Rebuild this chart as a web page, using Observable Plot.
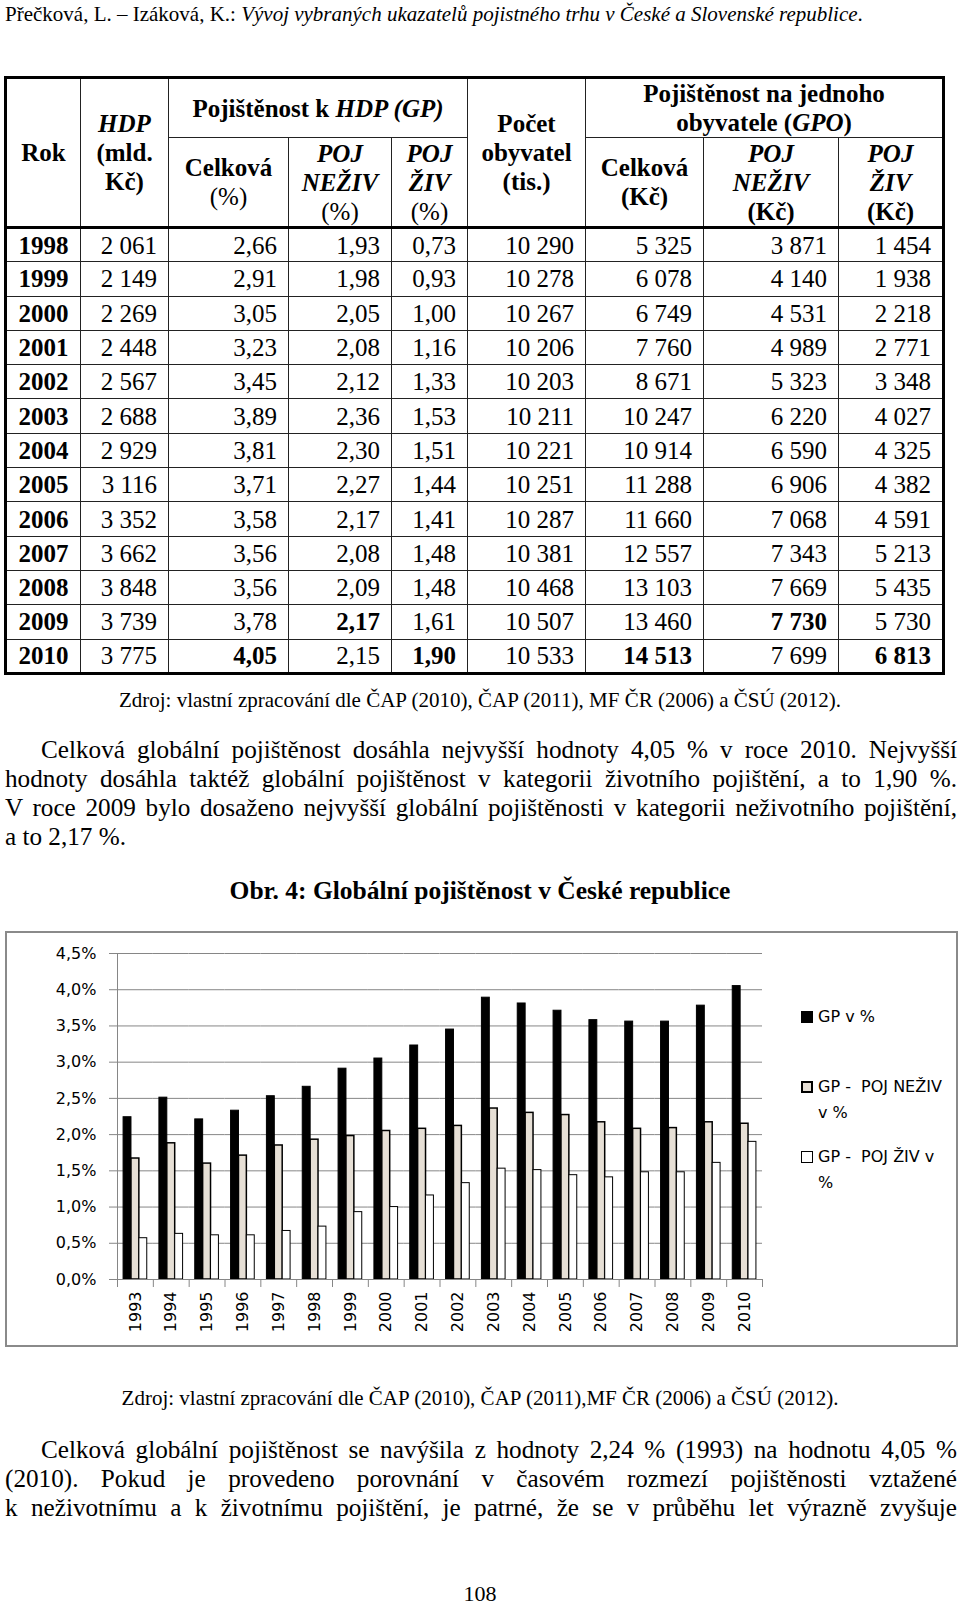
<!DOCTYPE html>
<html><head><meta charset="utf-8">
<script src="https://cdn.jsdelivr.net/npm/d3@7"></script>
<script src="https://cdn.jsdelivr.net/npm/@observablehq/plot@0.6"></script>
<style>
html,body{margin:0;padding:0}
body{width:960px;height:1605px;position:relative;background:#fff;font-family:"Liberation Serif","Times New Roman",serif;color:#000;overflow:hidden}
.abs{position:absolute}
#hdr{left:5px;top:2px;font-size:21px;line-height:24px;white-space:nowrap}
table{position:absolute;left:4px;top:76px;border-collapse:collapse;table-layout:fixed;width:938px;font-size:25px;border:3px solid #000}
th,td{border:1px solid #222;padding:0 11px;line-height:29px}
th{font-weight:bold;text-align:center;vertical-align:middle;padding:0 2px}
th .n{font-weight:normal}
thead tr.r1{height:60px}
thead tr.r2{height:90px}
thead tr.r2 th, thead th.rs{border-bottom:3px solid #000}
tbody tr{height:34.3px}
tbody td{text-align:right;padding:0 11px}
tbody td.yr{text-align:center;font-weight:bold;padding:0}
td.b{font-weight:bold}
.src{left:0;width:960px;text-align:center;font-size:21px;line-height:24px;white-space:nowrap}
.para{left:5px;width:952px;font-size:25.2px;line-height:29px}
.para div{text-align:justify;text-align-last:justify;height:29px}
.para div.last{text-align:left;text-align-last:left}
.para div.ind{text-indent:36px}
#title{left:0;width:960px;top:876px;text-align:center;font-size:25.5px;line-height:30px;font-weight:bold;white-space:nowrap}
#box{left:5px;top:931px;width:949px;height:412px;border:2px solid #8a8a8a}
#chart{left:7px;top:933px}
.leg{font-family:"DejaVu Sans",sans-serif;font-size:16px;line-height:25.5px;white-space:pre}
.sw{position:absolute;width:12px;height:12px;box-sizing:border-box}
#pg{left:0;width:960px;top:1582px;text-align:center;font-size:22px;line-height:24px}
</style></head>
<body>
<div id="hdr" class="abs">Přečková, L. – Izáková, K.: <i>Vývoj vybraných ukazatelů pojistného trhu v České a Slovenské republice</i>.</div>
<table id="tbl">
<colgroup><col style="width:75px"><col style="width:88px"><col style="width:120px"><col style="width:103px"><col style="width:76px"><col style="width:118px"><col style="width:118px"><col style="width:135px"><col style="width:105px"></colgroup>
<thead>
<tr class="r1">
<th rowspan="2" class="rs">Rok</th>
<th rowspan="2" class="rs"><i>HDP</i><br>(mld.<br>Kč)</th>
<th colspan="3">Pojištěnost k <i>HDP (GP)</i></th>
<th rowspan="2" class="rs">Počet<br>obyvatel<br>(tis.)</th>
<th colspan="3">Pojištěnost na jednoho<br>obyvatele (<i>GPO</i>)</th>
</tr>
<tr class="r2">
<th>Celková<br><span class="n">(%)</span></th>
<th><i>POJ<br>NEŽIV</i><br><span class="n">(%)</span></th>
<th><i>POJ<br>ŽIV</i><br><span class="n">(%)</span></th>
<th>Celková<br>(Kč)</th>
<th><i>POJ<br>NEŽIV</i><br>(Kč)</th>
<th><i>POJ<br>ŽIV</i><br>(Kč)</th>
</tr>
</thead>
<tbody id="tb"></tbody>
</table>
<div class="abs src" style="top:688px">Zdroj: vlastní zpracování dle ČAP (2010), ČAP (2011), MF ČR (2006) a ČSÚ (2012).</div>
<div class="abs para" style="top:735px">
<div class="ind">Celková globální pojištěnost dosáhla nejvyšší hodnoty 4,05 % v roce 2010. Nejvyšší</div>
<div>hodnoty dosáhla taktéž globální pojištěnost v kategorii životního pojištění, a to 1,90 %.</div>
<div>V roce 2009 bylo dosaženo nejvyšší globální pojištěnosti v kategorii neživotního pojištění,</div>
<div class="last">a to 2,17 %.</div>
</div>
<div id="title" class="abs">Obr. 4: Globální pojištěnost v České republice</div>
<div id="box" class="abs"></div>
<div id="chart" class="abs"></div>
<div id="legend"></div>
<div class="abs src" style="top:1386px">Zdroj: vlastní zpracování dle ČAP (2010), ČAP (2011),MF ČR (2006) a ČSÚ (2012).</div>
<div class="abs para" style="top:1435px">
<div class="ind">Celková globální pojištěnost se navýšila z hodnoty 2,24 % (1993) na hodnotu 4,05 %</div>
<div>(2010). Pokud je provedeno porovnání v časovém rozmezí pojištěnosti vztažené</div>
<div>k neživotnímu a k životnímu pojištění, je patrné, že se v průběhu let výrazně zvyšuje</div>
</div>
<div id="pg" class="abs">108</div>
<script>
// ---------- Table data ----------
const tblYears = [1998,1999,2000,2001,2002,2003,2004,2005,2006,2007,2008,2009,2010];
const hdp      = [2061,2149,2269,2448,2567,2688,2929,3116,3352,3662,3848,3739,3775];
const gpTotal  = [2.66,2.91,3.05,3.23,3.45,3.89,3.81,3.71,3.58,3.56,3.56,3.78,4.05];
const gpNeziv  = [1.93,1.98,2.05,2.08,2.12,2.36,2.30,2.27,2.17,2.08,2.09,2.17,2.15];
const gpZiv    = [0.73,0.93,1.00,1.16,1.33,1.53,1.51,1.44,1.41,1.48,1.48,1.61,1.90];
const population = [10290,10278,10267,10206,10203,10211,10221,10251,10287,10381,10468,10507,10533];
const gpoTotal = [5325,6078,6749,7760,8671,10247,10914,11288,11660,12557,13103,13460,14513];
const gpoNeziv = [3871,4140,4531,4989,5323,6220,6590,6906,7068,7343,7669,7730,7699];
const gpoZiv   = [1454,1938,2218,2771,3348,4027,4325,4382,4591,5213,5435,5730,6813];
const boldCells = ["2009:gpNeziv","2009:gpoNeziv","2010:gpTotal","2010:gpZiv","2010:gpoTotal","2010:gpoZiv"];

// ---------- Chart data ----------
const chartYears = ["1993","1994","1995","1996","1997","1998","1999","2000","2001","2002","2003","2004","2005","2006","2007","2008","2009","2010"];
const gpPct   = [2.24,2.51,2.21,2.33,2.53,2.66,2.91,3.05,3.23,3.45,3.89,3.81,3.71,3.58,3.56,3.56,3.78,4.05];
const nezivPct= [1.67,1.88,1.60,1.71,1.85,1.93,1.98,2.05,2.08,2.12,2.36,2.30,2.27,2.17,2.08,2.09,2.17,2.15];
const zivPct  = [0.57,0.63,0.61,0.61,0.67,0.73,0.93,1.00,1.16,1.33,1.53,1.51,1.44,1.41,1.48,1.48,1.61,1.90];
const seriesNames = ["GP v %","GP -  POJ NEŽIV v %","GP -  POJ ŽIV v %"];
const legendLines = [["GP v %"],["GP -  POJ NEŽIV","v %"],["GP -  POJ ŽIV v","%"]];
const yTicks = [0,0.5,1,1.5,2,2.5,3,3.5,4,4.5];
const yTickLabels = ["0,0%","0,5%","1,0%","1,5%","2,0%","2,5%","3,0%","3,5%","4,0%","4,5%"];

// ---------- Build table ----------
const fmtInt = n => String(n).replace(/\B(?=(\d{3})+(?!\d))/g, " ");
const fmtDec = n => n.toFixed(2).replace(".", ",");
const cols = [["hdp",hdp,fmtInt],["gpTotal",gpTotal,fmtDec],["gpNeziv",gpNeziv,fmtDec],["gpZiv",gpZiv,fmtDec],
  ["population",population,fmtInt],["gpoTotal",gpoTotal,fmtInt],["gpoNeziv",gpoNeziv,fmtInt],["gpoZiv",gpoZiv,fmtInt]];
const tb = document.getElementById("tb");
tblYears.forEach((y,i) => {
  const tr = document.createElement("tr");
  let h = `<td class="yr">${y}</td>`;
  for (const [key, arr, f] of cols) {
    const b = boldCells.includes(`${y}:${key}`) ? ' class="b"' : "";
    h += `<td${b}>${f(arr[i])}</td>`;
  }
  tr.innerHTML = h;
  tb.appendChild(tr);
});

// ---------- Chart ----------
const rows = chartYears.flatMap((year, i) => [
  {year, series: seriesNames[0], value: gpPct[i]},
  {year, series: seriesNames[1], value: nezivPct[i]},
  {year, series: seriesNames[2], value: zivPct[i]}
]);
const W = 950, H = 412, mT = 20, mB = 66, mL = 110, mR = 195;
const plotH = H - mT - mB;
const gray = "#868686";
const chart = Plot.plot({
  width: W, height: H,
  marginLeft: mL, marginRight: mR, marginTop: mT, marginBottom: mB,
  style: {fontFamily: "'DejaVu Sans', sans-serif", fontSize: "16px", color: "#000", background: "transparent", overflow: "visible"},
  fx: {domain: chartYears, padding: 0, round: false, label: null},
  x: {domain: seriesNames, paddingInner: 0, paddingOuter: 0.77, round: false, axis: null},
  y: {domain: [0, 4.5], label: null},
  color: {domain: seriesNames, range: ["#000000", "#e6dfd5", "#ffffff"]},
  marks: [
    Plot.gridY(yTicks, {stroke: gray, strokeOpacity: 1, strokeWidth: 1}),
    Plot.barY(rows, {fx: "year", x: "series", y: "value", fill: "series", stroke: "#000",
      strokeWidth: d => d.series === seriesNames[1] ? 1.5 : 1}),
    Plot.ruleY([0], {stroke: gray, strokeWidth: 1.2}),
    Plot.frame({anchor: "left", facetAnchor: "left", stroke: gray}),
    Plot.frame({anchor: "left", stroke: gray, insetTop: plotH, insetBottom: -7}),
    Plot.frame({anchor: "right", facetAnchor: "right", stroke: gray, insetTop: plotH, insetBottom: -7}),
    Plot.axisY(yTicks, {tickSize: 8, tickPadding: 13, stroke: gray, fontSize: 16, label: null,
      tickFormat: d => yTickLabels[yTicks.indexOf(d)]}),
    Plot.axisFx({anchor: "bottom", tickSize: 0, tickRotate: -90, tickPadding: 12, fontSize: 16, label: null})
  ]
});
document.getElementById("chart").appendChild(chart);

// ---------- Legend ----------
const legendEl = document.getElementById("legend");
const legTops = [1004, 1074, 1144];
const swStyles = [
  "background:#000;",
  "background:#e6dfd5;border:2px solid #000;",
  "background:#fff;border:1px solid #000;"
];
seriesNames.forEach((s, i) => {
  const sw = document.createElement("div");
  sw.className = "sw";
  sw.style.cssText = `left:801px;top:${legTops[i] + 7}px;` + swStyles[i];
  legendEl.appendChild(sw);
  const t = document.createElement("div");
  t.className = "abs leg";
  t.style.left = "818px";
  t.style.top = legTops[i] + "px";
  t.textContent = legendLines[i].join("\n");
  legendEl.appendChild(t);
});
</script>
</body></html>
